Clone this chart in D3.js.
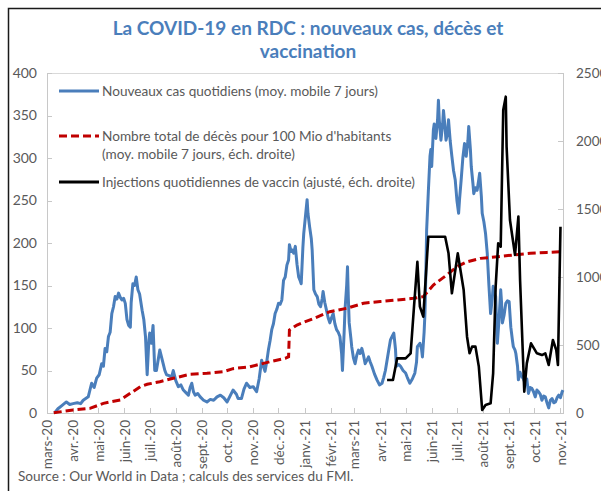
<!DOCTYPE html>
<html>
<head>
<meta charset="utf-8">
<title>La COVID-19 en RDC</title>
<script src="https://d3js.org/d3.v7.min.js"></script>
<style>
 body { margin: 0; background: #fff; }
 text { font-family: Lato, "Open Sans", sans-serif; fill: #595959; }
 .title { fill: #4a7ebb; font-weight: bold; font-size: 19px; }
 .axis text { font-size: 14px; }
 .yright text { font-size: 13.5px; }
 .xaxis text { font-size: 13.5px; }
 .axis path, .axis line { stroke: #c8c8c8; fill: none; shape-rendering: crispEdges; }
 .legend text { font-size: 13.6px; }
 .source { font-size: 13.6px; }
</style>
</head>
<body>
<div id="chart"></div>
<script>
// day offsets are counted from 1 March 2020
var startDate = new Date(2020, 2, 1);
var endDate = new Date(2021, 10, 4);

var monthLabels = ["mars-20", "avr.-20", "mai-20", "juin-20", "juil.-20", "août-20", "sept.-20",
  "oct.-20", "nov.-20", "déc.-20", "janv.-21", "févr.-21", "mars-21", "avr.-21", "mai-21",
  "juin-21", "juil.-21", "août-21", "sept.-21", "oct.-21", "nov.-21"];
var leftTicks = [0, 50, 100, 150, 200, 250, 300, 350, 400];
var rightTicks = [0, 500, 1000, 1500, 2000, 2500];

// [day, new cases, 7-day avg]
var cases = [[9,0],[13,5],[18,9],[23,13],[27,10],[31,11],[36,12],[40,11],[43,15],[46,17],[49,19],[53,35],[56,30],[59,41],[62,45],[65,58],[67,55],[69,76],[71,72],[73,90],[75,95],[77,117],[79,125],[81,137],[83,134],[85,141],[87,136],[89,133],[91,135],[93,129],[95,110],[97,103],[99,101],[100,130],[102,152],[104,150],[106,160],[108,145],[110,140],[113,121],[115,110],[117,90],[119,45],[121,85],[122,94],[124,82],[126,103],[128,50],[130,50],[132,62],[134,74],[136,66],[138,58],[140,50],[142,45],[145,44],[148,42],[150,50],[153,38],[156,31],[159,33],[162,27],[165,24],[168,21],[170,30],[172,35],[174,25],[176,21],[179,23],[182,19],[186,15],[190,13],[194,16],[198,15],[202,19],[206,21],[210,18],[214,13],[218,21],[221,27],[225,22],[227,17],[231,17],[234,28],[237,35],[241,30],[245,31],[249,25],[252,40],[255,62],[257,55],[259,49],[261,60],[263,74],[265,85],[267,98],[269,105],[271,117],[273,122],[275,129],[277,128],[279,133],[281,156],[283,160],[285,174],[287,180],[288,198],[290,190],[291,192],[293,188],[295,196],[297,175],[299,160],[301,155],[302,152],[304,195],[305,211],[307,231],[309,251],[310,235],[312,219],[314,205],[315,192],[317,145],[319,140],[321,137],[323,128],[325,125],[327,135],[328,143],[330,130],[332,121],[334,112],[336,106],[338,112],[340,117],[342,105],[344,98],[346,95],[348,90],[350,70],[351,50],[353,95],[354,121],[356,150],[357,172],[358,135],[359,106],[361,88],[362,78],[364,65],[366,58],[368,68],[370,74],[372,70],[374,76],[376,68],[378,58],[380,62],[382,66],[384,60],[386,55],[389,46],[392,39],[395,33],[398,35],[400,42],[402,50],[404,62],[406,74],[408,86],[410,90],[412,94],[414,75],[415,55],[418,57],[420,55],[423,50],[426,47],[428,42],[431,35],[434,40],[437,47],[439,60],[440,78],[443,82],[445,75],[446,66],[448,95],[449,117],[450,160],[451,215],[453,260],[455,302],[456,310],[457,290],[459,333],[460,340],[462,323],[464,345],[465,368],[466,345],[468,321],[470,340],[471,356],[473,335],[474,321],[476,330],[477,345],[479,320],[481,302],[483,285],[485,274],[487,250],[489,235],[490,250],[492,274],[494,300],[496,317],[497,310],[498,302],[500,320],[501,337],[503,310],[504,290],[506,270],[507,258],[509,265],[511,262],[513,275],[514,282],[516,255],[517,235],[519,225],[521,211],[523,188],[525,150],[527,117],[529,135],[530,149],[532,140],[533,137],[535,82],[537,110],[539,145],[540,130],[541,106],[543,115],[545,129],[547,132],[549,131],[551,101],[553,85],[554,78],[556,74],[557,70],[559,55],[560,39],[562,48],[564,43],[566,40],[568,35],[570,40],[572,23],[574,30],[576,29],[578,25],[580,19],[582,27],[584,25],[586,22],[588,15],[590,20],[592,19],[594,12],[596,6],[598,15],[600,17],[602,12],[604,13],[606,18],[608,21],[610,18],[612,25],[613,27]];

// [day, deaths per 100 million]
var deaths = [[8,2],[31,22],[51,34],[67,71],[87,96],[99,145],[111,194],[119,211],[134,230],[150,255],[170,285],[190,292],[210,304],[221,326],[241,340],[265,377],[283,402],[287,414],[288,610],[297,647],[317,696],[336,745],[356,770],[376,807],[396,820],[416,831],[435,843],[447,855],[459,941],[475,1015],[487,1076],[499,1112],[515,1137],[535,1149],[554,1162],[574,1174],[594,1181],[612,1186]];

// [day, vaccine injections]
var vaccines = [[404,243],[411,243],[416,402],[426,402],[432,439],[436,782],[440,1112],[443,782],[447,708],[453,1296],[473,1296],[477,1174],[481,880],[488,1174],[495,904],[499,561],[502,439],[505,488],[509,488],[513,341],[517,22],[521,59],[527,71],[530,292],[533,929],[536,1248],[539,1223],[542,2228],[545,2326],[546,1958],[550,1419],[556,1162],[560,1444],[562,978],[567,157],[570,365],[575,512],[582,439],[588,426],[592,439],[596,353],[601,537],[605,463],[607,353],[610,1370]];

var width = 601, height = 491;
var plot = {left: 47, right: 563, top: 73, bottom: 413};

var svg = d3.select("#chart").append("svg")
  .attr("width", width)
  .attr("height", height);

var x = d3.scaleTime().domain([startDate, endDate]).range([plot.left, plot.right]);
var yLeft = d3.scaleLinear().domain([0, 400]).range([plot.bottom, plot.top]);
var yRight = d3.scaleLinear().domain([0, 2500]).range([plot.bottom, plot.top]);

function day(d) { return d3.timeDay.offset(startDate, d); }

// outer frame
svg.append("path")
  .attr("d", "M8.5," + height + "V8.5H" + width)
  .attr("fill", "none")
  .attr("stroke", "#1a1a1a")
  .attr("stroke-width", 1.5);

svg.append("rect")
  .attr("x", plot.left + 0.5)
  .attr("y", plot.top + 0.5)
  .attr("width", plot.right - plot.left)
  .attr("height", plot.bottom - plot.top)
  .attr("fill", "none")
  .attr("stroke", "#d9d9d9");

svg.append("text")
  .attr("class", "title")
  .attr("x", 308)
  .attr("y", 35)
  .attr("text-anchor", "middle")
  .text("La COVID-19 en RDC : nouveaux cas, décès et");
svg.append("text")
  .attr("class", "title")
  .attr("x", 308)
  .attr("y", 58)
  .attr("text-anchor", "middle")
  .text("vaccination");

svg.append("g")
  .attr("class", "axis")
  .attr("transform", "translate(" + plot.left + ",0)")
  .call(d3.axisLeft(yLeft).tickValues(leftTicks).tickSize(-5).tickPadding(10));

svg.append("g")
  .attr("class", "axis yright")
  .attr("transform", "translate(" + plot.right + ",0)")
  .call(d3.axisRight(yRight).tickValues(rightTicks).tickSize(-5).tickPadding(13)
    .tickFormat(d3.format("d")));

var months = d3.timeMonth.range(startDate, new Date(2021, 10, 2));
svg.append("g")
  .attr("class", "axis xaxis")
  .attr("transform", "translate(0," + plot.bottom + ")")
  .call(d3.axisBottom(x).tickValues(months).tickSize(-5)
    .tickFormat(function(d, i) { return monthLabels[i]; }))
  .selectAll("text")
  .attr("transform", "rotate(-90)")
  .attr("text-anchor", "end")
  .attr("x", -7)
  .attr("y", 0)
  .attr("dy", "0.35em");

var lineLeft = d3.line()
  .x(function(d) { return x(day(d[0])); })
  .y(function(d) { return yLeft(d[1]); });
var lineRight = d3.line()
  .x(function(d) { return x(day(d[0])); })
  .y(function(d) { return yRight(d[1]); });

svg.append("path")
  .datum(cases)
  .attr("d", lineLeft)
  .attr("fill", "none")
  .attr("stroke", "#4a7ebb")
  .attr("stroke-width", 3)
  .attr("stroke-linejoin", "round");

svg.append("path")
  .datum(deaths)
  .attr("d", lineRight)
  .attr("fill", "none")
  .attr("stroke", "#c00000")
  .attr("stroke-width", 3)
  .attr("stroke-dasharray", "8,4");

svg.append("path")
  .datum(vaccines)
  .attr("d", lineRight)
  .attr("fill", "none")
  .attr("stroke", "#000")
  .attr("stroke-width", 2.6)
  .attr("stroke-linejoin", "round");

// legend
var legend = svg.append("g").attr("class", "legend");
var legendItems = [
  {y: 91, color: "#4a7ebb", dash: null, lines: ["Nouveaux cas quotidiens (moy. mobile 7 jours)"]},
  {y: 136, color: "#c00000", dash: "8,4", lines: ["Nombre total de décès pour 100 Mio d'habitants", "(moy. mobile 7 jours, éch. droite)"]},
  {y: 182, color: "#000", dash: null, lines: ["Injections quotidiennes de vaccin (ajusté, éch. droite)"]}
];
legendItems.forEach(function(item) {
  legend.append("line")
    .attr("x1", 59).attr("x2", 99)
    .attr("y1", item.y).attr("y2", item.y)
    .attr("stroke", item.color)
    .attr("stroke-width", 3)
    .attr("stroke-dasharray", item.dash);
  item.lines.forEach(function(t, i) {
    legend.append("text")
      .attr("x", 102)
      .attr("y", item.y + i * 18)
      .attr("dy", "0.35em")
      .text(t);
  });
});

svg.append("text")
  .attr("class", "source")
  .attr("x", 18)
  .attr("y", 481)
  .text("Source : Our World in Data ; calculs des services du FMI.");
</script>
</body>
</html>
